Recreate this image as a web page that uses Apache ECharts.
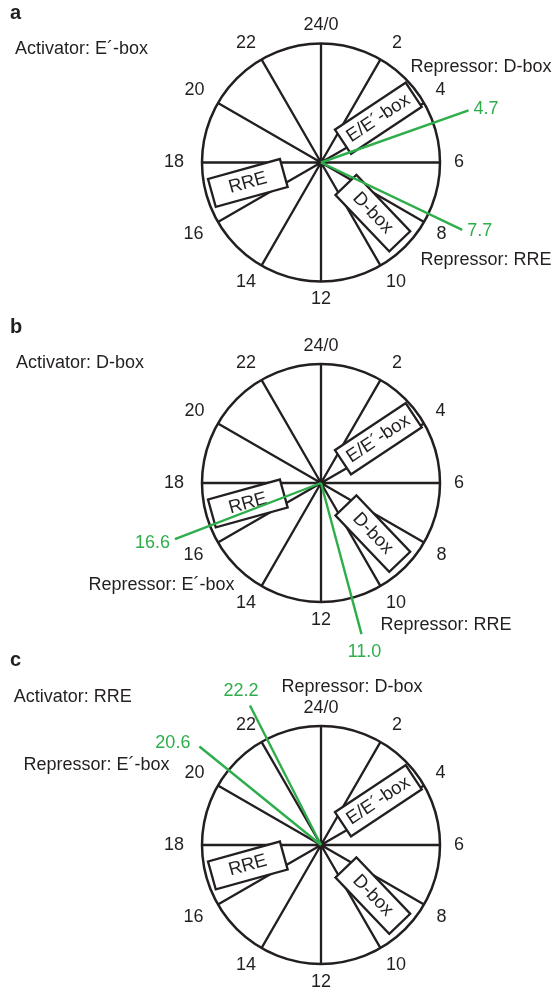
<!DOCTYPE html>
<html>
<head>
<meta charset="utf-8">
<title>Clock-dial phase diagrams</title>
<script src="https://cdn.jsdelivr.net/npm/echarts@6/dist/echarts.min.js"></script>
<style>
  html, body { margin: 0; padding: 0; background: #ffffff; }
  #chart { width: 557px; height: 994px; }
</style>
</head>
<body>
<div id="chart"></div>
<script>
// ---- data ----------------------------------------------------------------
// Dial hour labels (one every 2 h, starting at the top)
const hourTickLabels = ['24/0', '2', '4', '6', '8', '10', '12', '14', '16', '18', '20', '22'];

// Clock-controlled elements drawn as boxes on each dial (phase of inner / outer end, reach 0..1)
const elementNames = ['E/E´-box', 'D-box', 'RRE'];
const elementInnerHour = [3.11, 8.8, 16.95];
const elementOuterHour = [3.59, 9.0, 16.96];
const elementInnerReach = [0.254, 0.282, 0.325];
const elementOuterReach = [0.965, 0.936, 0.952];

// Panel letters and annotations
const panelLetters = ['a', 'b', 'c'];
const activatorTexts = ['Activator: E´-box', 'Activator: D-box', 'Activator: RRE'];
const repressorTextsA = ['Repressor: D-box', 'Repressor: RRE'];
const repressorTextsB = ['Repressor: E´-box', 'Repressor: RRE'];
const repressorTextsC = ['Repressor: D-box', 'Repressor: E´-box'];

// Predicted expression phases (h) marked by green rays
const phaseHoursA = [4.7, 7.7];
const phaseHoursB = [16.6, 11.0];
const phaseHoursC = [20.6, 22.2];

// ---- styles & layout ------------------------------------------------------
const INK = '#231f20';
const GREEN = '#2eae4b';
const FONT = '"Liberation Sans", Arial, Helvetica, sans-serif';
const TEXT_SIZE = 18;
const DIAL_RADIUS = 119;
const RAY_END = 1.315;       // ray length in dial radii
const BOX_WIDTH = 29;

// extra horizontal gap per hour label (+ pushes right-hand labels out, - pushes left-hand labels out)
const tickLabelNudge = [0, 6, 2, 3, 3, 0, 0, 0, -5, -7, -4, 0];

const panelCenters = [[321, 162.5], [321, 483], [321, 845]];
const letterPos = [[10, 13.6], [10, 327.5], [10, 660.8]];
const activatorPos = [[81.5, 49.5], [80, 363], [72.8, 697]];
const repressorPos = [
  [[481, 67], [486, 260.5]],
  [[161.5, 585.5], [446, 625]],
  [[352, 687], [96.6, 765]]
];
// where each ray's value label sits relative to the ray tip
const rayLabelPlacement = [
  [{ align: 'left', verticalAlign: 'middle', dx: 5, dy: -1 },
   { align: 'left', verticalAlign: 'middle', dx: 5, dy: 1 }],
  [{ align: 'right', verticalAlign: 'middle', dx: -5, dy: 4 },
   { align: 'center', verticalAlign: 'top', dx: 3, dy: 9 }],
  [{ align: 'right', verticalAlign: 'middle', dx: -9, dy: -3 },
   { align: 'center', verticalAlign: 'bottom', dx: -9, dy: -6 }]
];

const phaseHours = [phaseHoursA, phaseHoursB, phaseHoursC];
const repressorTexts = [repressorTextsA, repressorTextsB, repressorTextsC];

// rich styles used to nudge the hour labels
const tickRich = {};
tickLabelNudge.forEach(function (n, k) {
  tickRich['t' + k] = {
    fontSize: TEXT_SIZE,
    fontFamily: FONT,
    color: INK,
    lineHeight: 14,
    padding: n >= 0 ? [0, 0, 0, n] : [0, -n, 0, 0]
  };
});

// ---- build option ---------------------------------------------------------
const polar = [], angleAxis = [], radiusAxis = [], series = [], graphic = [];

panelCenters.forEach(function (center, i) {
  polar.push({ center: center, radius: DIAL_RADIUS });

  angleAxis.push({
    polarIndex: i,
    type: 'value',
    min: 0,
    max: 24,
    interval: 2,
    startAngle: 90,
    clockwise: true,
    axisLine: { show: true, lineStyle: { color: INK, width: 2.5 } },
    axisTick: { show: false },
    splitLine: { show: true, lineStyle: { color: INK, width: 2.3 } },
    axisLabel: {
      show: true,
      margin: 11,
      color: INK,
      fontSize: TEXT_SIZE,
      fontFamily: FONT,
      lineHeight: 14,
      rich: tickRich,
      formatter: function (v) {
        const k = Math.round(v / 2);
        return k < hourTickLabels.length ? '{t' + k + '|' + hourTickLabels[k] + '}' : '';
      }
    }
  });

  radiusAxis.push({
    polarIndex: i,
    type: 'value',
    min: 0,
    max: 1,
    show: false,
    axisLine: { show: false },
    axisTick: { show: false },
    axisLabel: { show: false },
    splitLine: { show: false }
  });

  // element boxes
  series.push({
    type: 'custom',
    coordinateSystem: 'polar',
    polarIndex: i,
    z: 2,
    silent: true,
    animation: false,
    data: elementNames.map(function (name, j) {
      return [elementInnerReach[j], elementInnerHour[j], elementOuterReach[j], elementOuterHour[j], j];
    }),
    renderItem: function (params, api) {
      const p0 = api.coord([api.value(0), api.value(1)]);
      const p1 = api.coord([api.value(2), api.value(3)]);
      const dx = p1[0] - p0[0];
      const dy = p1[1] - p0[1];
      const len = Math.sqrt(dx * dx + dy * dy);
      const ang = Math.atan2(-dy, dx);
      let textRot = ang;
      if (textRot > Math.PI / 2) textRot -= Math.PI;
      else if (textRot < -Math.PI / 2) textRot += Math.PI;
      const cx = (p0[0] + p1[0]) / 2;
      const cy = (p0[1] + p1[1]) / 2;
      const name = elementNames[api.value(4)];
      return {
        type: 'group',
        children: [
          {
            type: 'rect',
            x: cx, y: cy, rotation: ang,
            shape: { x: -len / 2, y: -BOX_WIDTH / 2, width: len, height: BOX_WIDTH },
            style: { fill: '#ffffff', stroke: INK, lineWidth: 2.3 }
          },
          {
            type: 'text',
            x: cx, y: cy, rotation: textRot,
            style: {
              text: name, x: 0, y: 0,
              align: 'center', verticalAlign: 'middle',
              fill: INK, fontSize: 18.5, fontFamily: FONT
            }
          }
        ]
      };
    }
  });

  // phase rays: from the dial centre out past the rim, value printed at the tip
  series.push({
    type: 'custom',
    coordinateSystem: 'polar',
    polarIndex: i,
    z: 5,
    clip: false,
    silent: true,
    animation: false,
    data: phaseHours[i].map(function (h, j) { return [RAY_END, h, j]; }),
    renderItem: function (params, api) {
      const hour = api.value(1);
      const p0 = api.coord([0, hour]);
      const p1 = api.coord([api.value(0), hour]);
      const place = rayLabelPlacement[i][api.value(2)];
      return {
        type: 'group',
        children: [
          {
            type: 'line',
            shape: { x1: p0[0], y1: p0[1], x2: p1[0], y2: p1[1] },
            style: { stroke: GREEN, lineWidth: 2.4, lineCap: 'butt' }
          },
          {
            type: 'text',
            x: p1[0] + place.dx, y: p1[1] + place.dy,
            style: {
              text: Number(hour).toFixed(1), x: 0, y: 0,
              align: place.align, verticalAlign: place.verticalAlign,
              fill: GREEN, fontSize: TEXT_SIZE, fontFamily: FONT
            }
          }
        ]
      };
    }
  });

  // panel letter
  graphic.push({
    type: 'text', x: letterPos[i][0], y: letterPos[i][1], silent: true,
    style: {
      text: panelLetters[i], fill: INK,
      font: 'bold 20px ' + FONT,
      align: 'left', verticalAlign: 'middle',
      textAlign: 'left', textVerticalAlign: 'middle'
    }
  });

  // activator note
  graphic.push({
    type: 'text', x: activatorPos[i][0], y: activatorPos[i][1], silent: true,
    style: {
      text: activatorTexts[i], fill: INK,
      font: TEXT_SIZE + 'px ' + FONT,
      align: 'center', verticalAlign: 'middle',
      textAlign: 'center', textVerticalAlign: 'middle'
    }
  });

  // repressor notes
  repressorTexts[i].forEach(function (t, j) {
    graphic.push({
      type: 'text', x: repressorPos[i][j][0], y: repressorPos[i][j][1], silent: true,
      style: {
        text: t, fill: INK,
        font: TEXT_SIZE + 'px ' + FONT,
        align: 'center', verticalAlign: 'middle',
        textAlign: 'center', textVerticalAlign: 'middle'
      }
    });
  });
});

const chart = echarts.init(document.getElementById('chart'), null, { renderer: 'canvas' });
chart.setOption({
  backgroundColor: '#ffffff',
  animation: false,
  textStyle: { fontFamily: FONT },
  polar: polar,
  angleAxis: angleAxis,
  radiusAxis: radiusAxis,
  series: series,
  graphic: graphic
});
</script>
</body>
</html>
